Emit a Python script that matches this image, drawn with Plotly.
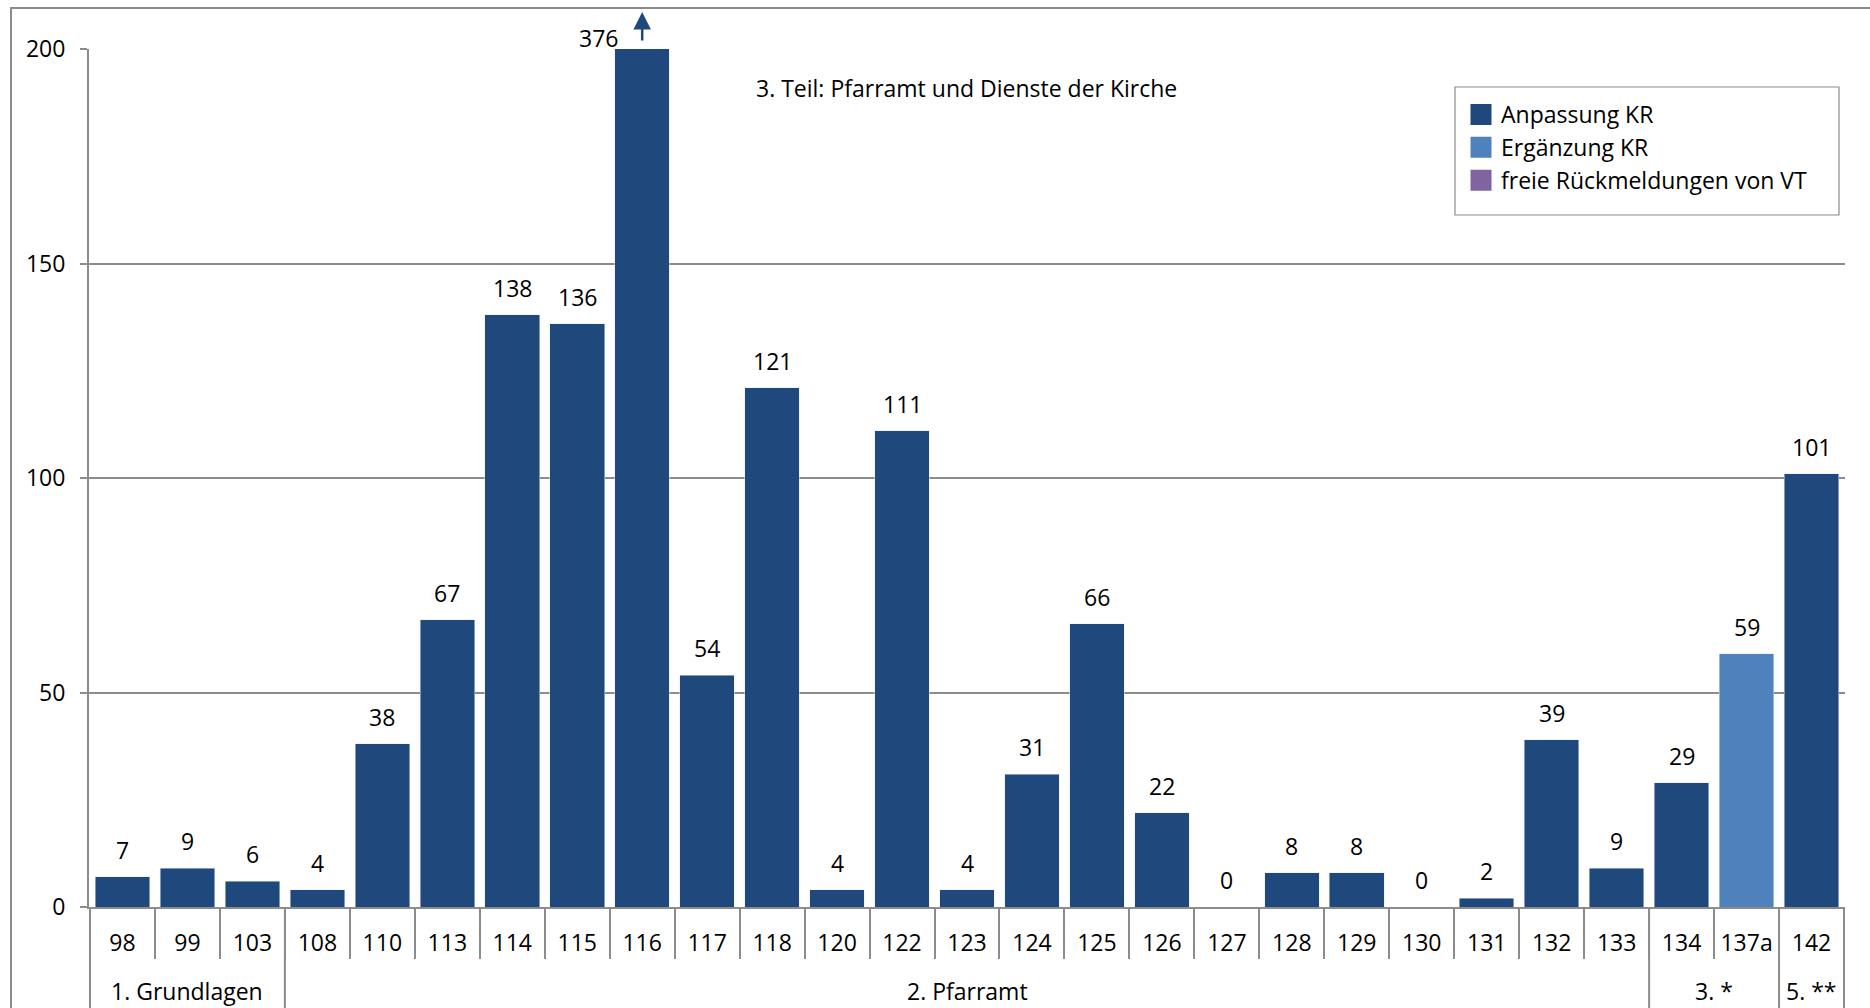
import plotly.graph_objects as go

# ---- data ----
groups = ["1. Grundlagen"] * 3 + ["2. Pfarramt"] * 21 + ["3. *"] * 2 + ["5. **"]
sections = ["98", "99", "103", "108", "110", "113", "114", "115", "116", "117", "118",
            "120", "122", "123", "124", "125", "126", "127", "128", "129", "130", "131",
            "132", "133", "134", "137a", "142"]
anpassung = [7, 9, 6, 4, 38, 67, 138, 136, 376, 54, 121, 4, 111, 4, 31, 66, 22, 0, 8, 8,
             0, 2, 39, 9, 29, None, 101]
ergaenzung = [None] * 25 + [59, None]
freie = [None] * 27
series_names = ["Anpassung KR", "Ergänzung KR", "freie Rückmeldungen von VT"]
colors = ["#1F497D", "#4F81BD", "#8064A2"]
y_ticks = [0, 50, 100, 150, 200]
y_max = 200
subtitle = "3. Teil: Pfarramt und Dienste der Kirche"

FONT = "Open Sans"
FS = 23
GRAY = "#8C8C8C"

W, H = 1870, 1008
L, R, T, B = 89, 25, 49, 101
pw, ph = W - L - R, H - T - B

fig = go.Figure()
for name, vals, col in zip(series_names, [anpassung, ergaenzung, freie], colors):
    fig.add_trace(go.Bar(x=sections, y=vals, name=name, marker_color=col,
                         showlegend=False, legendgroup=name))
    # legend proxy with a larger square swatch
    fig.add_trace(go.Scatter(x=[None], y=[None], mode="markers", name=name,
                             legendgroup=name,
                             marker=dict(symbol="square", size=16, color=col,
                                         line=dict(color=col, width=5))))

annotations = []
for i, (a, e) in enumerate(zip(anpassung, ergaenzung)):
    parts = [v for v in (a, e) if v is not None]
    if not parts:
        continue
    total = sum(parts)
    if total > y_max:
        annotations.append(dict(x=i, y=y_max, xref="x", yref="y", text=str(total),
                                showarrow=False, yanchor="middle", yshift=11, xshift=-44,
                                font=dict(family=FONT, size=FS, color="black")))
        annotations.append(dict(x=i, y=y_max, xref="x", yref="y", text="",
                                showarrow=True, ax=0, ay=30, yshift=37,
                                arrowhead=2, arrowsize=1.4, arrowwidth=2.5,
                                arrowcolor=colors[0]))
    else:
        annotations.append(dict(x=i, y=total, xref="x", yref="y", text=str(total),
                                showarrow=False, yanchor="middle", yshift=27,
                                font=dict(family=FONT, size=FS, color="black")))

annotations.append(dict(x=0.3786, y=191, xref="paper", yref="y", text=subtitle,
                        showarrow=False, xanchor="left", yanchor="middle",
                        font=dict(family=FONT, size=FS, color="black")))

# group labels and dividers of the second category level
shapes = [dict(type="rect", xref="paper", yref="paper",
               x0=(11 - L) / pw, x1=(W + 20 - L) / pw,
               y0=-(B + 20) / ph, y1=(H - B - 8) / ph,
               line=dict(color=GRAY, width=2), layer="below"),
          # legend frame
          dict(type="rect", xref="paper", yref="paper",
               x0=(1455 - L) / pw, x1=(1839 - L) / pw,
               y0=(H - B - 215) / ph, y1=(H - B - 87) / ph,
               line=dict(color=GRAY, width=1.2), fillcolor="rgba(0,0,0,0)", layer="above")]
start = 0
bounds = [-0.5]
for j in range(1, len(groups) + 1):
    if j == len(groups) or groups[j] != groups[start]:
        annotations.append(dict(x=(start + j - 1) / 2, y=-(991 - (H - B)) / ph,
                                xref="x", yref="paper", text=groups[start],
                                showarrow=False, yanchor="middle",
                                font=dict(family=FONT, size=FS, color="black")))
        bounds.append(j - 0.5)
        start = j
for bx in bounds:
    shapes.append(dict(type="line", xref="x", yref="paper", x0=bx, x1=bx,
                       y0=0, y1=-(B + 20) / ph, line=dict(color=GRAY, width=2)))

fig.update_layout(
    width=W, height=H,
    margin=dict(l=L, r=R, t=T, b=B, pad=0),
    paper_bgcolor="white", plot_bgcolor="white",
    barmode="stack", bargap=0.16,
    font=dict(family=FONT, size=FS, color="black"),
    annotations=annotations,
    shapes=shapes,
    legend=dict(x=(1461 - L) / pw, y=(H - B - 93) / ph, xanchor="left", yanchor="top",
                bgcolor="rgba(0,0,0,0)", borderwidth=0,
                font=dict(family=FONT, size=FS, color="black"),
                tracegroupgap=0, itemclick=False),
)
fig.update_yaxes(range=[0, y_max], tickvals=y_ticks, showgrid=True, gridcolor=GRAY,
                 gridwidth=1.5, showline=True, linecolor=GRAY, linewidth=2,
                 ticks="outside", ticklen=7, tickcolor=GRAY, tickwidth=2,
                 ticklabelstandoff=10, zeroline=False,
                 tickfont=dict(family=FONT, size=FS, color="black"))
fig.update_xaxes(type="category", showline=True, linecolor=GRAY, linewidth=2,
                 ticks="outside", tickson="boundaries", ticklen=50, tickcolor=GRAY,
                 tickwidth=1.5, ticklabelstandoff=14, showgrid=False,
                 tickfont=dict(family=FONT, size=FS, color="black"))

fig.write_html("out.html")
